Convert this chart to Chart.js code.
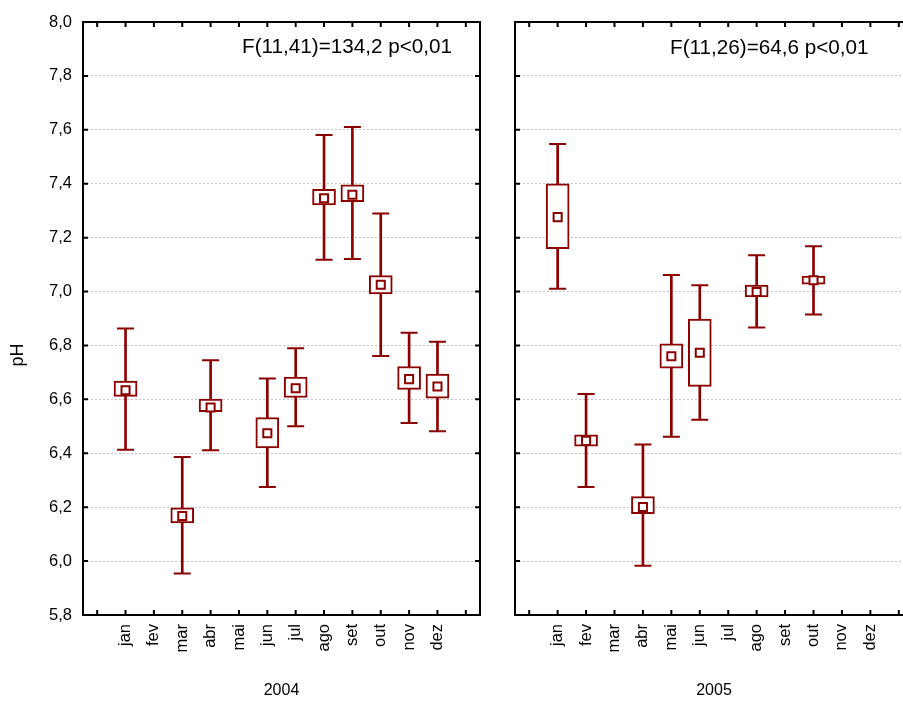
<!DOCTYPE html>
<html><head><meta charset="utf-8">
<script src="https://cdn.jsdelivr.net/npm/chart.js@4.4.0/dist/chart.umd.min.js"></script>
<style>
html,body{margin:0;padding:0;background:#fff;overflow:hidden;width:903px;height:701px;position:relative;}
#c1{position:absolute;left:0;top:0;}
#c2{position:absolute;left:495px;top:0;}
</style></head><body>
<canvas id="c1" width="495" height="701"></canvas>
<canvas id="c2" width="430" height="701"></canvas>
<script>
const months = ['jan','fev','mar','abr','mai','jun','jul','ago','set','out','nov','dez'];
const yTicks = [5.8, 6.0, 6.2, 6.4, 6.6, 6.8, 7.0, 7.2, 7.4, 7.6, 7.8, 8.0];

// 2004
const mean2004      = [6.634, null, 6.167, 6.570, null, 6.474, 6.641, 7.346, 7.359, 7.025, 6.675, 6.648];
const boxLow2004    = [6.611, null, 6.142, 6.554, null, 6.420, 6.607, 7.321, 7.333, 6.991, 6.637, 6.604];
const boxHigh2004   = [6.668, null, 6.198, 6.601, null, 6.532, 6.683, 7.379, 7.396, 7.059, 6.722, 6.694];
const whiskLow2004  = [6.413, null, 5.954, 6.411, null, 6.275, 6.500, 7.118, 7.121, 6.761, 6.512, 6.482];
const whiskHigh2004 = [6.863, null, 6.386, 6.745, null, 6.677, 6.790, 7.581, 7.610, 7.290, 6.847, 6.814];

// 2005
const mean2005      = [7.276, 6.446, null, 6.201, 6.760, 6.773, null, 6.998, null, 7.042, null, null];
const boxLow2005    = [7.159, 6.426, null, 6.176, 6.716, 6.648, null, 6.980, null, 7.027, null, null];
const boxHigh2005   = [7.400, 6.468, null, 6.239, 6.806, 6.898, null, 7.024, null, 7.057, null, null];
const whiskLow2005  = [7.010, 6.275, null, 5.983, 6.461, 6.524, null, 6.867, null, 6.915, null, null];
const whiskHigh2005 = [7.547, 6.620, null, 6.433, 7.061, 7.023, null, 7.135, null, 7.168, null, null];

const stat2004 = 'F(11,41)=134,2 p<0,01';
const stat2005 = 'F(11,26)=64,6 p<0,01';

const RED = '#8b0000';
const FONT = '"Liberation Sans", Arial, sans-serif';
Chart.defaults.font.family = FONT;
Chart.defaults.font.size = 16;
Chart.defaults.color = '#000';

const pad = arr => [null, ...arr, null];
const pairs = (lo, hi) => lo.map((v, i) => (v == null || hi[i] == null) ? null : [v, hi[i]]);
const axisLabels = ['', ...months, ''];

const framePlugin = {
  id: 'frame',
  afterDraw(chart, args, opts) {
    const {ctx, chartArea: a, scales: {x, y}} = chart;
    ctx.save();
    ctx.strokeStyle = '#000';
    ctx.lineWidth = 2;
    ctx.strokeRect(a.left, a.top, a.right - a.left, a.bottom - a.top);
    const L = 5;
    ctx.beginPath();
    x.ticks.forEach((t, i) => {
      const px = x.getPixelForTick(i);
      ctx.moveTo(px, a.bottom); ctx.lineTo(px, a.bottom - L);
      ctx.moveTo(px, a.top); ctx.lineTo(px, a.top + L);
    });
    y.ticks.forEach((t, i) => {
      const py = y.getPixelForTick(i);
      ctx.moveTo(a.left, py); ctx.lineTo(a.left + L, py);
      ctx.moveTo(a.right, py); ctx.lineTo(a.right - L, py);
    });
    ctx.stroke();
    if (opts.text) {
      ctx.font = '20.7px ' + FONT;
      ctx.fillStyle = '#000';
      ctx.textAlign = 'left';
      ctx.textBaseline = 'alphabetic';
      ctx.fillText(opts.text, a.left + opts.dx, opts.ty);
    }
    if (opts.yTitle) {
      ctx.translate(opts.yTitleX, opts.yTitleY);
      ctx.rotate(-Math.PI / 2);
      ctx.font = '18px ' + FONT;
      ctx.textAlign = 'center';
      ctx.textBaseline = 'middle';
      ctx.fillText(opts.yTitle, 0, 0);
    }
    ctx.restore();
  }
};

function makeChart(id, year, mean, bLo, bHi, wLo, wHi, cfg) {
  return new Chart(document.getElementById(id), {
    type: 'bar',
    data: {
      labels: axisLabels,
      datasets: [
        { type: 'bar', data: pad(pairs(wLo, wHi)), backgroundColor: RED, borderWidth: 0,
          barThickness: 2, grouped: false, order: 4 },
        { type: 'line', data: pad(wHi), showLine: false, pointStyle: 'line', pointRadius: 8.5,
          pointBorderWidth: 2, pointBorderColor: RED, order: 3 },
        { type: 'line', data: pad(wLo), showLine: false, pointStyle: 'line', pointRadius: 8.5,
          pointBorderWidth: 2, pointBorderColor: RED, order: 3 },
        { type: 'bar', data: pad(pairs(bLo, bHi)), backgroundColor: '#fff', borderColor: RED,
          borderWidth: 2, borderSkipped: false, barThickness: 23, grouped: false, order: 2 },
        { type: 'line', data: pad(mean), showLine: false, pointStyle: 'rect', pointRadius: 5.7,
          pointBackgroundColor: '#fff', pointBorderColor: RED, pointBorderWidth: 2, order: 1 }
      ]
    },
    options: {
      responsive: false,
      animation: false,
      events: [],
      layout: { padding: { top: 22, right: cfg.padRight, left: 0, bottom: 0 } },
      plugins: {
        legend: { display: false },
        tooltip: { enabled: false },
        frame: { text: cfg.stat, dx: cfg.dx, ty: cfg.ty, yTitle: cfg.yTitle, yTitleX: 18, yTitleY: 355 }
      },
      scales: {
        x: {
          type: 'category',
          offset: true,
          grid: { display: false, drawTicks: false },
          border: { display: false },
          ticks: { minRotation: 90, maxRotation: 90, autoSkip: false, padding: 9, color: '#000', font: { size: 16.5 } },
          title: { display: true, text: year, color: '#000', font: { size: 16 }, padding: { top: 0, bottom: 1 } },
          afterFit(s) { s.height = 86; s.paddingLeft = 0; s.paddingRight = 0; }
        },
        y: {
          type: 'linear',
          min: yTicks[0],
          max: yTicks[yTicks.length - 1],
          grid: { color: '#c4c4c4', lineWidth: 1, drawTicks: false },
          border: { display: false, dash: [2, 2] },
          ticks: {
            display: cfg.showY,
            stepSize: 0.2,
            padding: 11,
            color: '#000',
            font: { size: 16.5 },
            callback: v => v.toFixed(1).replace('.', ',')
          },
          afterFit(s) { s.width = cfg.yWidth; s.paddingTop = 0; s.paddingBottom = 0; }
        }
      }
    },
    plugins: [framePlugin]
  });
}

makeChart('c1', '2004', mean2004, boxLow2004, boxHigh2004, whiskLow2004, whiskHigh2004,
  { padRight: 15, yWidth: 83, showY: true, stat: stat2004, dx: 159, ty: 53, yTitle: 'pH' });
makeChart('c2', '2005', mean2005, boxLow2005, boxHigh2005, whiskLow2005, whiskHigh2005,
  { padRight: 12, yWidth: 20, showY: false, stat: stat2005, dx: 155, ty: 54, yTitle: '' });
</script>
</body></html>
